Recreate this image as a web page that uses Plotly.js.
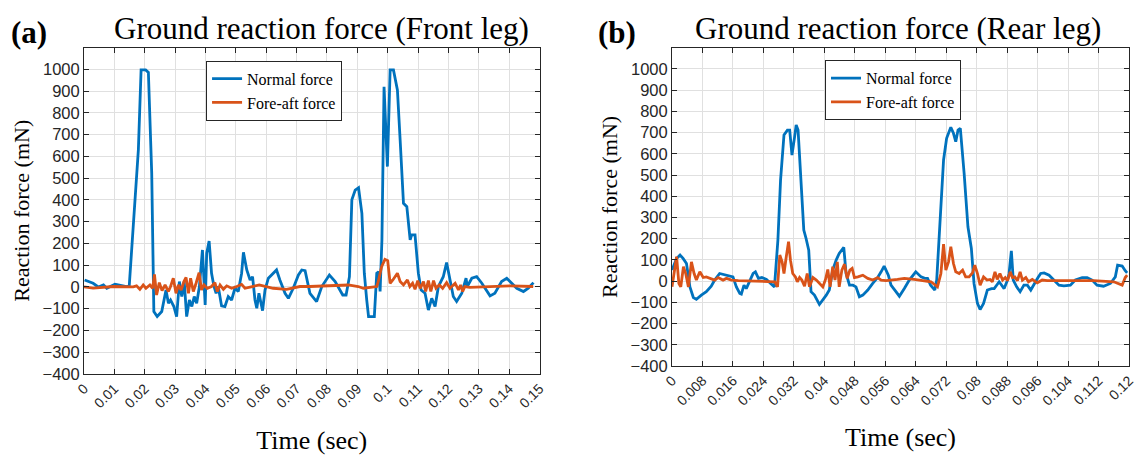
<!DOCTYPE html>
<html>
<head>
<meta charset="utf-8">
<script src="https://cdn.plot.ly/plotly-3.0.1.min.js"></script>
<style>html,body{margin:0;padding:0;background:#fff;}#chart{width:1146px;height:456px;}</style>
</head>
<body>
<div id="chart"></div>
<script>
// ---------- Data ----------
// (a) Front leg
const frontNormalT = [0.0002,0.003,0.0047,0.0064,0.0075,0.0102,0.014,0.0149,0.0179,0.0188,
0.0203,0.0212,0.0223,0.023,0.0241,0.0256,0.027,0.0278,0.0285,0.0296,
0.0305,0.0314,0.0322,0.033,0.0338,0.0347,0.0355,0.0363,0.0371,0.038,
0.039,0.0399,0.0404,0.0412,0.042,0.0428,0.0435,0.0442,0.0453,0.0464,
0.0475,0.0486,0.0497,0.0508,0.0519,0.0525,0.0536,0.0547,0.0555,0.0563,
0.0569,0.0576,0.0588,0.0596,0.0607,0.0624,0.0634,0.0645,0.0662,0.0673,
0.0689,0.0706,0.0717,0.0728,0.0744,0.0766,0.0783,0.0808,0.0827,0.0852,
0.0863,0.0874,0.0882,0.0893,0.0904,0.0915,0.0923,0.0931,0.0937,0.0956,
0.0964,0.097,0.0975,0.0981,0.0988,0.0999,0.1008,0.1019,0.1032,0.1041,
0.1052,0.1063,0.1074,0.1079,0.109,0.1101,0.111,0.1123,0.1134,0.1145,
0.1156,0.1167,0.1183,0.1194,0.1205,0.1216,0.1227,0.1244,0.1258,0.1262,
0.1277,0.1293,0.131,0.1337,0.1353,0.1375,0.1392,0.1408,0.1425,0.1447,
0.1463,0.148];
const frontNormal = [32,17,0,9,-6,12,2,5,630,997,
997,986,522,-113,-136,-113,-14,-75,-60,-90,
-136,25,-44,25,-136,-60,-90,-44,-75,2,
170,-83,155,211,63,2,-29,2,-87,-90,
-44,-60,-6,-21,63,159,78,32,47,-60,
-98,-29,-109,-14,40,67,78,32,-29,-52,
-6,55,78,75,-29,-67,2,55,25,-37,
-37,47,400,445,456,338,63,-60,-136,-136,
63,70,-21,216,920,553,997,997,905,675,
384,369,216,239,239,63,-14,-29,-106,-52,
-90,2,47,112,32,-44,-67,-29,40,2,
40,47,17,-41,-29,25,40,17,-6,-21,
-6,20];
const frontForeAftT = [0,0.003,0.0097,0.0162,0.0173,0.0184,0.0195,0.0204,0.0217,0.0226,
0.0232,0.0239,0.0248,0.0257,0.0267,0.0278,0.0285,0.0294,0.0303,0.0311,
0.032,0.0329,0.0336,0.0344,0.0351,0.036,0.0369,0.0379,0.0387,0.0395,
0.0406,0.042,0.0431,0.0439,0.0448,0.0459,0.047,0.0486,0.0503,0.0519,
0.053,0.0577,0.0623,0.0667,0.0711,0.0744,0.087,0.0903,0.092,0.0964,
0.0969,0.098,0.0991,0.1,0.1008,0.1017,0.1032,0.1041,0.1052,0.1065,
0.1073,0.1082,0.109,0.1099,0.1107,0.1118,0.1125,0.1134,0.1142,0.1151,
0.1159,0.117,0.1181,0.1194,0.1205,0.1222,0.1233,0.124,0.1247,0.1254,
0.127,0.1403,0.1479];
const frontForeAft = [0,-5,2,0,5,-11,9,-6,9,-6,
58,-37,20,-17,9,-21,2,40,-29,9,
-14,25,44,-29,40,-21,17,66,-14,9,
-6,2,20,-21,9,-11,5,-6,2,12,
-6,9,-6,-11,2,2,9,2,-6,2,
25,93,127,121,17,32,63,25,9,32,
2,17,-11,29,-6,25,-21,29,-21,29,
-6,9,-6,20,-6,17,-14,9,-21,2,
-2,5,2];

// (b) Rear leg
const rearNormalT = [0,0.0012,0.0021,0.0029,0.0038,0.0047,0.0056,0.0064,0.0077,0.009,
0.0103,0.0112,0.0125,0.0143,0.016,0.0169,0.0178,0.0182,0.0189,0.0195,
0.0204,0.0213,0.0219,0.0227,0.0236,0.0248,0.0259,0.0269,0.0278,0.0285,
0.0294,0.0303,0.0309,0.0315,0.0322,0.0326,0.0331,0.0339,0.0346,0.0352,
0.0359,0.0365,0.0374,0.0387,0.0396,0.0405,0.0413,0.0422,0.0431,0.0439,
0.0451,0.0457,0.0466,0.0475,0.0483,0.0492,0.0501,0.0514,0.0527,0.054,
0.0549,0.0557,0.0568,0.0575,0.0584,0.0597,0.061,0.0623,0.064,0.0654,
0.0664,0.0671,0.0679,0.069,0.0695,0.0706,0.0713,0.0721,0.0732,0.0739,
0.0745,0.0751,0.0757,0.0767,0.0777,0.0786,0.0793,0.0802,0.0809,0.0818,
0.0828,0.0839,0.0846,0.0859,0.0872,0.0881,0.0885,0.0891,0.0896,0.0905,
0.0914,0.0924,0.0933,0.0942,0.0951,0.0961,0.0968,0.0977,0.099,0.1003,
0.1016,0.1029,0.1046,0.1059,0.1077,0.109,0.1103,0.1116,0.1133,0.1151,
0.1164,0.117,0.1182,0.119,0.1195];
const rearNormal = [52,107,123,107,83,-27,-77,-86,-66,-50,
-24,5,36,28,20,-27,-58,-61,-19,-35,
5,36,44,13,17,8,-11,-27,193,476,
689,712,712,594,681,736,712,476,241,201,
146,-50,-66,-110,-90,-66,-42,52,99,131,
159,36,-19,-19,-27,-74,-66,-42,-11,17,
44,71,28,-19,-40,-71,-35,5,44,20,
13,13,-19,-42,5,351,571,673,725,697,
657,712,720,508,256,154,-11,-105,-134,-105,
-42,-35,-35,-3,-35,5,36,143,5,-27,
-50,-19,-19,-42,-11,17,36,39,28,5,
-19,-22,-19,5,17,17,5,-19,-24,-11,
20,75,71,49,39];
const rearForeAftT = [0,0.0006,0.0012,0.0018,0.0023,0.003,0.0036,0.0043,0.0051,0.0058,
0.0064,0.0073,0.0082,0.009,0.0099,0.0112,0.0121,0.0134,0.0143,0.0156,
0.0174,0.027,0.0277,0.0283,0.0289,0.0294,0.03,0.0306,0.0311,0.0317,
0.0324,0.0329,0.0335,0.0341,0.0348,0.0355,0.0361,0.037,0.0379,0.0387,
0.0396,0.0403,0.0409,0.0415,0.0422,0.0428,0.0434,0.0439,0.0446,0.0453,
0.046,0.0467,0.0473,0.0479,0.0488,0.0501,0.0514,0.0527,0.054,0.0549,
0.0562,0.0592,0.061,0.0636,0.0662,0.068,0.0697,0.0706,0.0713,0.0719,
0.0726,0.0732,0.0739,0.0745,0.0754,0.0763,0.0771,0.078,0.0789,0.0795,
0.0802,0.0809,0.0818,0.0827,0.0835,0.0841,0.0848,0.0854,0.0861,0.0868,
0.0875,0.0881,0.0888,0.0894,0.09,0.0907,0.0914,0.092,0.0929,0.0936,
0.0946,0.0959,0.0972,0.0985,0.1107,0.116,0.1182,0.119,0.1195];
const rearForeAft = [-27,52,115,-11,-27,68,36,-27,91,36,
5,44,17,20,13,5,17,5,13,5,
2,-3,-27,123,91,36,115,186,99,36,
20,-3,17,5,-24,36,-27,17,5,-11,
-27,8,55,-27,68,5,91,-27,52,80,
13,52,60,17,20,28,13,5,17,5,
2,8,13,8,2,-3,-27,36,175,52,
91,162,83,44,36,52,20,20,39,75,
36,-19,20,5,8,-3,44,8,36,5,
17,2,44,17,20,2,44,5,17,-3,
8,-8,5,2,2,-3,-19,17,28];

// Tick values / labels
const frontTickVals = [0,0.01,0.02,0.03,0.04,0.05,0.06,0.07,0.08,0.09,0.1,0.11,0.12,0.13,0.14,0.15];
const frontTickText = ['0','0.01','0.02','0.03','0.04','0.05','0.06','0.07','0.08','0.09','0.1','0.11','0.12','0.13','0.14','0.15'];
const rearTickVals = [0,0.008,0.016,0.024,0.032,0.04,0.048,0.056,0.064,0.072,0.08,0.088,0.096,0.104,0.112,0.12];
const rearTickText = ['0','0.008','0.016','0.024','0.032','0.04','0.048','0.056','0.064','0.072','0.08','0.088','0.096','0.104','0.112','0.12'];
const yTickVals = [-400,-300,-200,-100,0,100,200,300,400,500,600,700,800,900,1000];

const seriesNames = ['Normal force','Fore-aft force'];
const panelTitles = ['Ground reaction force (Front leg)','Ground reaction force (Rear leg)'];
const panelLetters = ['(a)','(b)'];

// ---------- Styling ----------
const BLUE = '#0072BD', ORANGE = '#D95319', AX = '#262626';
const serif = 'Times New Roman, Liberation Serif, serif';
const sans = 'Liberation Sans, Arial, sans-serif';

const traces = [
  {x: frontNormalT, y: frontNormal, name: seriesNames[0], type:'scatter', mode:'lines',
   line:{color:BLUE, width:2.8}, xaxis:'x', yaxis:'y', legend:'legend'},
  {x: frontForeAftT, y: frontForeAft, name: seriesNames[1], type:'scatter', mode:'lines',
   line:{color:ORANGE, width:2.8}, xaxis:'x', yaxis:'y', legend:'legend'},
  {x: rearNormalT, y: rearNormal, name: seriesNames[0], type:'scatter', mode:'lines',
   line:{color:BLUE, width:2.8}, xaxis:'x2', yaxis:'y2', legend:'legend2'},
  {x: rearForeAftT, y: rearForeAft, name: seriesNames[1], type:'scatter', mode:'lines',
   line:{color:ORANGE, width:2.8}, xaxis:'x2', yaxis:'y2', legend:'legend2'}
];

function xAxis(domain, range, vals, text, anchor){
  return {domain, range, anchor, tickmode:'array', tickvals:vals, ticktext:text, tickangle:-45,
    showline:true, linecolor:AX, linewidth:1, mirror:'ticks', ticks:'inside', ticklen:5, tickcolor:AX,
    showgrid:true, gridcolor:'#e0e0e0', gridwidth:1, zeroline:false,
    tickfont:{family:sans, size:14, color:AX},
    title:{text:'Time (sec)', font:{family:serif, size:26, color:'#000'}, standoff:20}};
}
function yAxis(domain, anchor){
  return {domain, range:[-400,1100], anchor, tickmode:'array', tickvals:yTickVals,
    showline:true, linecolor:AX, linewidth:1, mirror:'ticks', ticks:'inside', ticklen:5, tickcolor:AX,
    showgrid:true, gridcolor:'#e0e0e0', gridwidth:1, zeroline:false,
    tickfont:{family:sans, size:16.5, color:AX},
    title:{text:'Reaction force (mN)', font:{family:serif, size:22, color:'#000'}, standoff:6}};
}
const legendStyle = {xanchor:'left', yanchor:'top', bgcolor:'#fff', bordercolor:AX, borderwidth:1,
  font:{family:serif, size:16, color:'#000'}, tracegroupgap:0};

const layout = {
  width:1146, height:456,
  margin:{l:0, r:0, t:0, b:0},
  paper_bgcolor:'#fff', plot_bgcolor:'#fff',
  showlegend:true,
  xaxis: xAxis([0.0733,0.4708],[0,0.15],frontTickVals,frontTickText,'y'),
  yaxis: yAxis([0.1798,0.8958],'x'),
  xaxis2: xAxis([0.5864,0.9852],[0,0.12],rearTickVals,rearTickText,'y2'),
  yaxis2: yAxis([0.1974,0.8952],'x2'),
  legend: Object.assign({x:0.1798, y:0.867}, legendStyle),
  legend2: Object.assign({x:0.7199, y:0.868}, legendStyle),
  annotations:[
    {text:panelTitles[0], xref:'paper', yref:'paper', x:0.2809, y:0.938, xanchor:'center', yanchor:'middle',
     showarrow:false, font:{family:serif, size:31, color:'#000'}},
    {text:panelTitles[1], xref:'paper', yref:'paper', x:0.7836, y:0.938, xanchor:'center', yanchor:'middle',
     showarrow:false, font:{family:serif, size:31, color:'#000'}},
    {text:'<b>'+panelLetters[0]+'</b>', xref:'paper', yref:'paper', x:0.0249, y:0.928, xanchor:'center', yanchor:'middle',
     showarrow:false, font:{family:serif, size:31, color:'#000'}},
    {text:'<b>'+panelLetters[1]+'</b>', xref:'paper', yref:'paper', x:0.5384, y:0.928, xanchor:'center', yanchor:'middle',
     showarrow:false, font:{family:serif, size:31, color:'#000'}}
  ]
};

Plotly.newPlot('chart', traces, layout, {displayModeBar:false, staticPlot:true});
</script>
</body>
</html>
